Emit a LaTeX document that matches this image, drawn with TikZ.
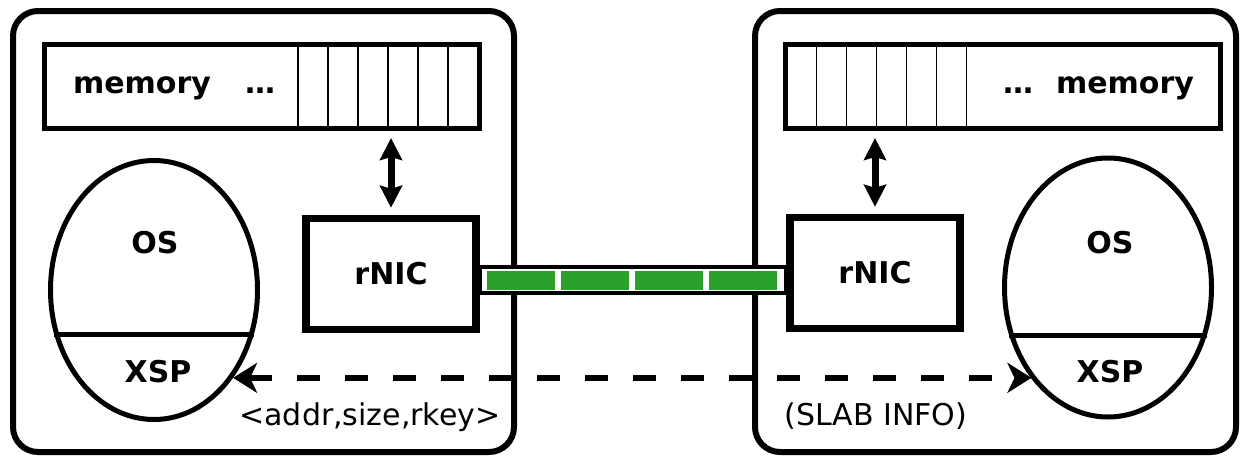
\documentclass[tikz,border=0pt]{standalone}
\usepackage{fontspec}
\setmainfont{DejaVu Sans}
\usetikzlibrary{arrows.meta,shapes.geometric,calc}
\definecolor{linkgreen}{RGB}{43,161,43}

\begin{document}
\begin{tikzpicture}[x=1pt,y=-1pt,
  host/.style={draw, line width=6pt, rounded corners=25pt, inner sep=0pt},
  membox/.style={draw, line width=5pt, minimum width=435pt, minimum height=84pt, inner sep=0pt},
  cell/.style={line width=1.5pt},
  nic/.style={draw, line width=7.5pt, minimum width=170pt, minimum height=111pt, inner sep=0pt,
    font=\bfseries\fontsize{30}{36}\selectfont},
  osell/.style={draw, ellipse, line width=5pt, minimum width=207pt, minimum height=259pt, inner sep=0pt},
  split/.style={line width=5pt},
  lbl/.style={font=\bfseries\fontsize{30}{36}\selectfont, inner sep=0pt, anchor=base},
  note/.style={font=\fontsize{30}{36}\selectfont, inner sep=0pt, anchor=base},
  dbl/.style={line width=7pt, shorten <=7.5pt, shorten >=7pt,
    {Stealth[length=22pt,width=22pt,inset=3pt]}-{Stealth[length=22pt,width=22pt,inset=3pt]}},
  msg/.style={line width=5.5pt, dash pattern=on 23pt off 25pt,
    {Stealth[length=24pt,width=30pt,inset=7pt]}-{Stealth[length=24pt,width=30pt,inset=7pt]}},
  wire/.style={draw, line width=4pt, fill=white},
  wirefill/.style={linkgreen, line width=19pt, dash pattern=on 68pt off 6pt},
]
\fill[white] (0,0) rectangle (1241,455);
\useasboundingbox (0,0) rectangle (1241,455);

% hosts
\node[host, minimum width=501pt, minimum height=441pt] (hostL) at (263.5,231.5) {};
\node[host, minimum width=481pt, minimum height=441pt] (hostR) at (995.5,231.5) {};

% memory rows
\node[membox] (memL) at (262,86) {};
\node[membox] (memR) at (1002.5,86) {};
\foreach \o in {34,64,94,124,154,184} {
  \draw[cell] ($(memL.north east)+(-\o,0)$) -- ($(memL.south east)+(-\o,0)$);
  \draw[cell] ($(memR.north west)+(\o,0)$) -- ($(memR.south west)+(\o,0)$);
}
\node[lbl] (memtxtL) at (142,93) {memory};
\node[lbl] (dotsL) at (260,93) {…};
\node[lbl] (dotsR) at (1018,93) {…};
\node[lbl] (memtxtR) at (1125,93) {memory};

% network cards
\node[nic] (nicL) at (391,274) {rNIC};
\node[nic] (nicR) at (875,273) {rNIC};

% memory <-> rNIC
\draw[dbl] (nicL.north |- memL.south) -- (nicL.north);
\draw[dbl] (nicR.north |- memR.south) -- (nicR.north);

% operating systems
\node[osell] (ellL) at (154,290) {};
\node[osell] (ellR) at (1108,287.5) {};
\draw[split] (ellL.-156) -- (ellL.-24);
\draw[split] (ellR.-154) -- (ellR.-26);
\node[lbl] (osL) at (155,253) {OS};
\node[lbl] (xspL) at (158,382) {XSP};
\node[lbl] (osR) at (1110,253) {OS};
\node[lbl] (xspR) at (1110,382) {XSP};

% link between the rNICs
\draw[wire] ($(nicL.east)+(0,-7)$) rectangle ($(nicR.west |- nicL.east)+(0,19)$);
\draw[wirefill] ($(nicL.east)+(7.25,6)$) -- ($(nicR.west |- nicL.east)+(-9.25,6)$);

% XSP exchange
\draw[msg] (ellL.-48) -- (ellL.-48 -| ellR.-130);
\node[note] (keyinfo) at (370,425) {<addr,size,rkey>};
\node[note] (slabinfo) at (876,425) {(SLAB INFO)};
\end{tikzpicture}
\end{document}
